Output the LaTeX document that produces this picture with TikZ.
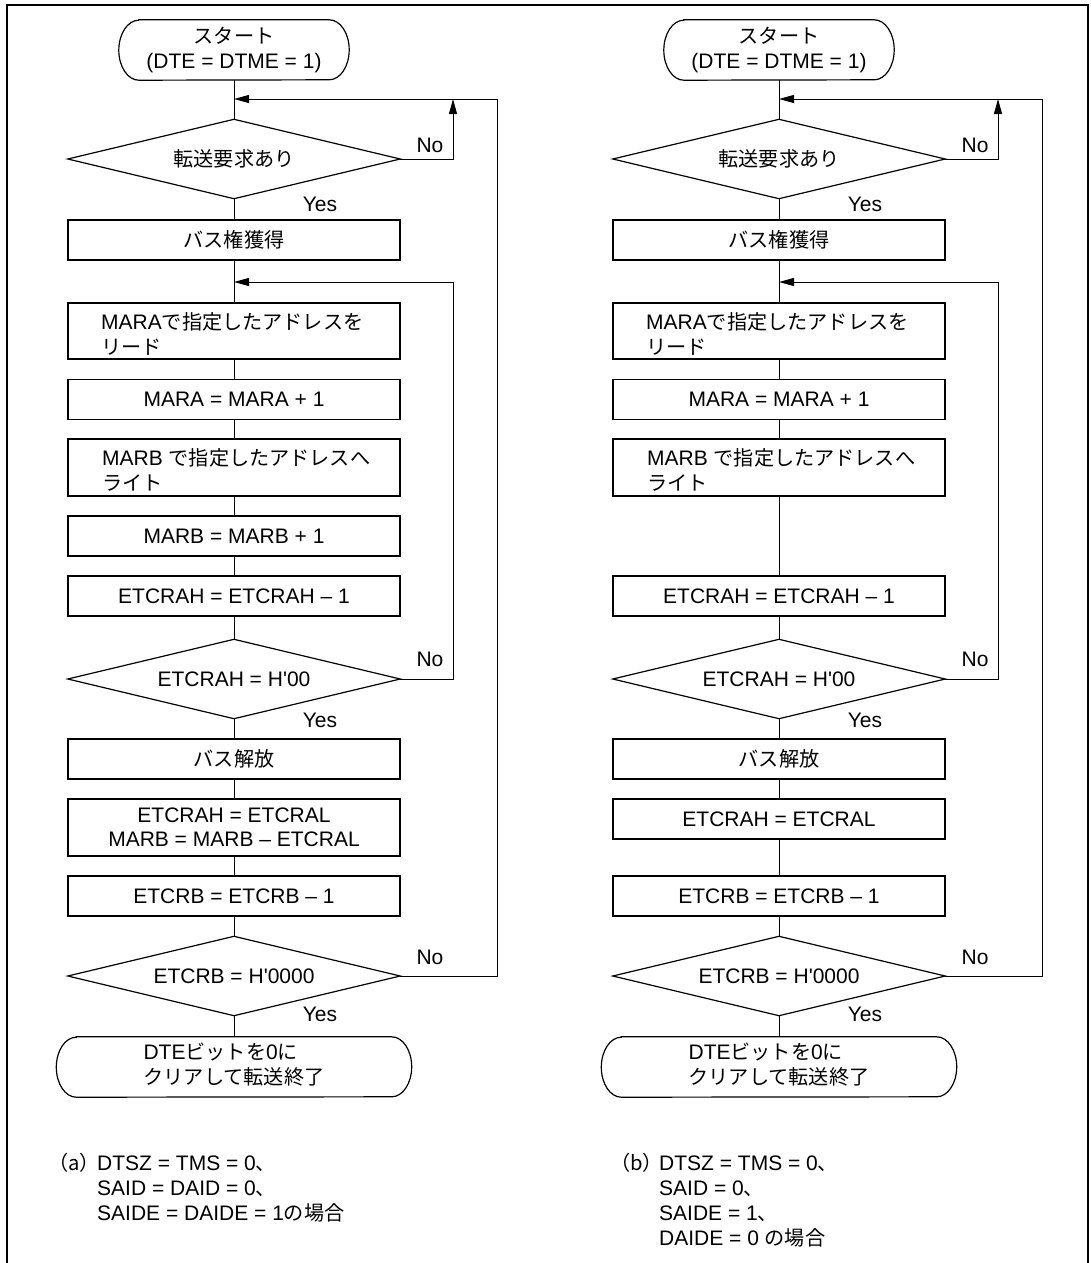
\documentclass[tikz,border=0pt]{standalone}
\usepackage{fontspec}
\setmainfont{Liberation Sans}[Ligatures=TeXOff]
\newfontfamily\jp[Scale=0.96]{Noto Sans CJK JP}
\usetikzlibrary{arrows.meta}
\newcommand\J[1]{{\jp #1}}
\tikzset{
  shp/.style={draw, line width=1.2pt},
  box/.style={shp, minimum width=332pt, minimum height=40pt, inner sep=0pt, align=center},
  dia/.style={minimum width=332pt, minimum height=79pt, inner sep=0pt, align=center},
  term/.style={minimum height=60pt, inner sep=0pt, align=center},
  lbl/.style={inner sep=0pt},
  con/.style={line width=1pt},
  arr/.style={con, -{Triangle[length=15pt,width=8pt]}},
}
\newcommand\diaoutline[1]{\draw[shp] (#1.north) -- (#1.east) -- (#1.south) -- (#1.west) -- cycle;}
\newcommand\termoutline[1]{\draw[shp] ([xshift=20pt]#1.north west) -- ([xshift=-20pt]#1.north east) arc[start angle=90,end angle=-90,x radius=20pt,y radius=30pt] -- ([xshift=20pt]#1.south west) arc[start angle=270,end angle=90,x radius=20pt,y radius=30pt] -- cycle;}
\newcommand\flowchart[3]{%
  \node[term, minimum width=230pt] (#1s) at (#2,50) {\J{スタート}\\(DTE = DTME = 1)};
  \termoutline{#1s}
  \coordinate (#1m1) at (#2,99);
  \coordinate (#1n1) at ({#2+219},99);
  \coordinate (#1o1) at ({#2+263},99);
  \node[dia] (#1d1) at (#2,159) {\J{転送要求あり}};
  \diaoutline{#1d1}
  \node[lbl] (#1d1n) at ({#2+196},145) {No};
  \node[lbl] (#1d1y) at ({#2+86},204) {Yes};
  \node[box] (#1b1) at (#2,240) {\J{バス権獲得}};
  \coordinate (#1m2) at (#2,282);
  \coordinate (#1n2) at ({#2+219},282);
  \node[box, minimum height=56pt] (#1b2) at (#2,331) {};
  \node[lbl, anchor=west, align=left] (#1b2t) at ({#2-133},334) {MARA\J{で指定したアドレスを}\\\J{リード}};
  \node[box] (#1b3) at (#2,399.5) {MARA = MARA + 1};
  \node[box, minimum height=57pt] (#1b4) at (#2,467.5) {};
  \node[lbl, anchor=west, align=left] (#1b4t) at ({#2-132},470) {MARB \J{で指定したアドレスへ}\\\J{ライト}};
  \node[box] (#1b6) at (#2,596) {ETCRAH = ETCRAH – 1};
  \node[dia] (#1d2) at (#2,679) {ETCRAH = H'00};
  \diaoutline{#1d2}
  \node[lbl] (#1d2n) at ({#2+196},659) {No};
  \node[lbl] (#1d2y) at ({#2+86},720) {Yes};
  \node[box] (#1b7) at (#2,759) {\J{バス解放}};
  \node[box] (#1b9) at (#2,896) {ETCRB = ETCRB – 1};
  \node[dia] (#1d3) at (#2,976) {ETCRB = H'0000};
  \diaoutline{#1d3}
  \node[lbl] (#1d3n) at ({#2+196},957) {No};
  \node[lbl] (#1d3y) at ({#2+86},1014) {Yes};
  \node[term, minimum width=355pt] (#1e) at (#2,1067) {\begin{tabular}{@{}l@{}}DTE\J{ビットを}0\J{に}\\\J{クリアして転送終了}\end{tabular}};
  \termoutline{#1e}
  \ifnum#3=0
    \node[box] (#1b5) at (#2,536) {MARB = MARB + 1};
    \node[box, minimum height=57pt] (#1b8) at (#2,827.5) {ETCRAH = ETCRAL\\MARB = MARB – ETCRAL};
    \draw[con] (#1b4.south) -- (#1b5.north);
    \draw[con] (#1b5.south) -- (#1b6.north);
  \else
    \node[box] (#1b8) at (#2,819) {ETCRAH = ETCRAL};
    \draw[con] (#1b4.south) -- (#1b6.north);
  \fi
  \draw[con] (#1s.south) -- (#1d1.north);
  \draw[arr] (#1d1.east) -| (#1n1);
  \draw[con] (#1d1.south) -- (#1b1.north);
  \draw[con] (#1b1.south) -- (#1b2.north);
  \draw[con] (#1b2.south) -- (#1b3.north);
  \draw[con] (#1b3.south) -- (#1b4.north);
  \draw[con] (#1b6.south) -- (#1d2.north);
  \draw[arr] (#1d2.east) -| (#1n2) -- (#1m2);
  \draw[con] (#1d2.south) -- (#1b7.north);
  \draw[con] (#1b7.south) -- (#1b8.north);
  \draw[con] (#1b8.south) -- (#1b9.north);
  \draw[con] (#1b9.south) -- (#1d3.north);
  \draw[arr] (#1d3.east) -| (#1o1) -- (#1m1);
  \draw[con] (#1d3.south) -- (#1e.north);
}
\begin{document}
\begin{tikzpicture}[x=1pt, y=-1pt, font=\fontsize{21}{24.5}\selectfont]
\useasboundingbox (0,0) rectangle (1091,1263);
\draw[line width=2.5pt] (7,1264) -- (7,5) -- (1088,5) -- (1088,1264);
\flowchart{a}{234}{0}
\flowchart{b}{779}{1}
\node[lbl, anchor=base west] (capa0) at (48,1170) {\J{（a）}};
\node[lbl, anchor=base west] (capa1) at (97,1170) {DTSZ = TMS = 0\J{、}};
\node[lbl, anchor=base west] (capa2) at (97,1195) {SAID = DAID = 0\J{、}};
\node[lbl, anchor=base west] (capa3) at (97,1220) {SAIDE = DAIDE = 1\J{の場合}};
\node[lbl, anchor=base west] (capb0) at (610,1170) {\J{（b）}};
\node[lbl, anchor=base west] (capb1) at (659,1170) {DTSZ = TMS = 0\J{、}};
\node[lbl, anchor=base west] (capb2) at (659,1195) {SAID = 0\J{、}};
\node[lbl, anchor=base west] (capb3) at (659,1220) {SAIDE = 1\J{、}};
\node[lbl, anchor=base west] (capb4) at (659,1245) {DAIDE = 0 \J{の場合}};
\end{tikzpicture}
\end{document}
